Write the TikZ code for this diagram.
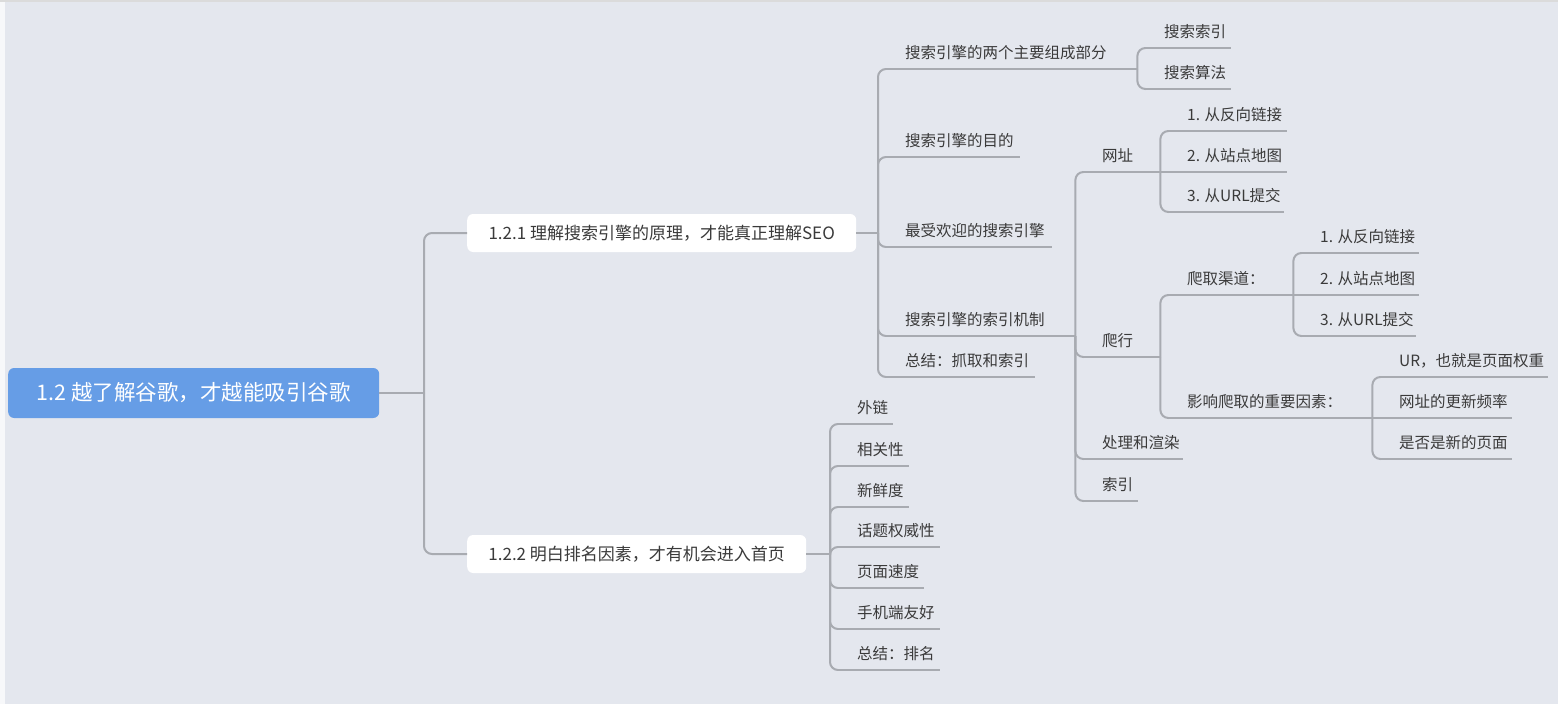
\documentclass[tikz,border=0pt]{standalone}
\usepackage{fontspec}
\newfontfamily\cjk{Noto Sans CJK SC}
\newcommand\ultext[2]{\makebox[#1][l]{\hspace{27pt}#2}}
\definecolor{bgc}{RGB}{228,231,238}
\definecolor{linec}{RGB}{168,171,177}
\definecolor{textc}{RGB}{58,58,58}
\definecolor{rootc}{RGB}{102,157,230}
\tikzset{
  conn/.style={draw=linec, line width=2pt, rounded corners=8pt},
  ul/.style={font=\cjk\fontsize{15.5}{18}\selectfont, text=textc, inner sep=0pt,
    anchor=south west, text depth=10pt, text height=14pt},
  rootbox/.style={fill=rootc, rounded corners=6pt, text=white, inner sep=0pt,
    minimum width=371pt, minimum height=50pt, anchor=west,
    font=\cjk\fontsize{21.5}{24}\selectfont},
  subbox/.style={fill=white, rounded corners=6pt, text=textc, inner sep=0pt,
    minimum height=38pt, anchor=west, font=\cjk\fontsize{17}{20}\selectfont}
}
\begin{document}
\begin{tikzpicture}[x=1pt, y=-1pt]
\useasboundingbox (0,0) rectangle (1558,704);
\fill[bgc] (0,0) rectangle (1558,704);
\fill[white!70!bgc] (0,0) rectangle (5,704);
\fill[black!14] (0,0) rectangle (1558,2);

% boxes
\node[rootbox] (root) at (8,393) {1.2 越了解谷歌，才越能吸引谷歌};
\node[subbox, minimum width=389pt] (s1) at (467,233) {1.2.1 理解搜索引擎的原理，才能真正理解SEO};
\node[subbox, minimum width=339pt] (s2) at (467,554) {1.2.2 明白排名因素，才有机会进入首页};

% level 2 under 1.2.1
\node[ul] (a1) at (878,69)  {\ultext{259pt}{搜索引擎的两个主要组成部分}};
\node[ul] (a2) at (878,157) {\ultext{142pt}{搜索引擎的目的}};
\node[ul] (a3) at (878,247) {\ultext{174pt}{最受欢迎的搜索引擎}};
\node[ul] (a4) at (878,336) {\ultext{197pt}{搜索引擎的索引机制}};
\node[ul] (a5) at (878,377) {\ultext{157pt}{总结：抓取和索引}};

\node[ul] (b1) at (1137,48) {\ultext{94pt}{搜索索引}};
\node[ul] (b2) at (1137,89) {\ultext{94pt}{搜索算法}};

\node[ul] (c1) at (1075,172) {\ultext{85pt}{网址}};
\node[ul] (c2) at (1075,357) {\ultext{85pt}{爬行}};
\node[ul] (c3) at (1075,459) {\ultext{108pt}{处理和渲染}};
\node[ul] (c4) at (1075,501) {\ultext{63pt}{索引}};

\node[ul] (d1) at (1160,131) {\ultext{127pt}{1. 从反向链接}};
\node[ul] (d2) at (1160,172) {\ultext{127pt}{2. 从站点地图}};
\node[ul] (d3) at (1160,212) {\ultext{124pt}{3. 从URL提交}};

\node[ul] (e1) at (1160,295) {\ultext{133pt}{爬取渠道：}};
\node[ul] (e2) at (1160,418) {\ultext{212pt}{影响爬取的重要因素：}};

\node[ul] (f1) at (1293,253) {\ultext{126pt}{1. 从反向链接}};
\node[ul] (f2) at (1293,295) {\ultext{126pt}{2. 从站点地图}};
\node[ul] (f3) at (1293,336) {\ultext{123pt}{3. 从URL提交}};

\node[ul] (g1) at (1372,377) {\ultext{176pt}{UR，也就是页面权重}};
\node[ul] (g2) at (1372,418) {\ultext{140pt}{网址的更新频率}};
\node[ul] (g3) at (1372,459) {\ultext{140pt}{是否是新的页面}};

% level 2 under 1.2.2
\node[ul] (h1) at (830,424) {\ultext{63pt}{外链}};
\node[ul] (h2) at (830,466) {\ultext{79pt}{相关性}};
\node[ul] (h3) at (830,507) {\ultext{79pt}{新鲜度}};
\node[ul] (h4) at (830,547) {\ultext{110pt}{话题权威性}};
\node[ul] (h5) at (830,588) {\ultext{94pt}{页面速度}};
\node[ul] (h6) at (830,629) {\ultext{110pt}{手机端友好}};
\node[ul] (h7) at (830,670) {\ultext{110pt}{总结：排名}};

% underlines
\foreach \n in {a1,a2,a3,a4,a5,b1,b2,c1,c2,c3,c4,d1,d2,d3,e1,e2,f1,f2,f3,g1,g2,g3,h1,h2,h3,h4,h5,h6,h7}
  \draw[conn] ([xshift=8pt]\n.south west) -- (\n.south east);

% root connectors
\coordinate (t0) at (424,393);
\draw[conn] (root.east) -- (t0);
\draw[conn] (t0) |- (s1.west);
\draw[conn] (t0) |- (s2.west);

% 1.2.1 connectors
\coordinate (t1) at (878,233);
\draw[conn] (s1.east) -- (t1);
\foreach \n in {a1,a2,a3,a4,a5}
  \draw[conn] (t1) |- ([xshift=8pt]\n.south west);

% 1.2.2 connectors
\coordinate (t2) at (830,554);
\draw[conn] (s2.east) -- (t2);
\foreach \n in {h1,h2,h3,h4,h5,h6,h7}
  \draw[conn] (t2) |- ([xshift=8pt]\n.south west);

% deeper connectors
\foreach \n in {b1,b2}
  \draw[conn] (a1.south east) |- ([xshift=8pt]\n.south west);
\foreach \n in {c1,c2,c3,c4}
  \draw[conn] (a4.south east) |- ([xshift=8pt]\n.south west);
\foreach \n in {d1,d3}
  \draw[conn] (c1.south east) |- ([xshift=8pt]\n.south west);
\draw[conn] (c1.south east) -- ([xshift=8pt]d2.south west);
\foreach \n in {e1,e2}
  \draw[conn] (c2.south east) |- ([xshift=8pt]\n.south west);
\foreach \n in {f1,f3}
  \draw[conn] (e1.south east) |- ([xshift=8pt]\n.south west);
\draw[conn] (e1.south east) -- ([xshift=8pt]f2.south west);
\foreach \n in {g1,g3}
  \draw[conn] (e2.south east) |- ([xshift=8pt]\n.south west);
\draw[conn] (e2.south east) -- ([xshift=8pt]g2.south west);
\end{tikzpicture}
\end{document}
